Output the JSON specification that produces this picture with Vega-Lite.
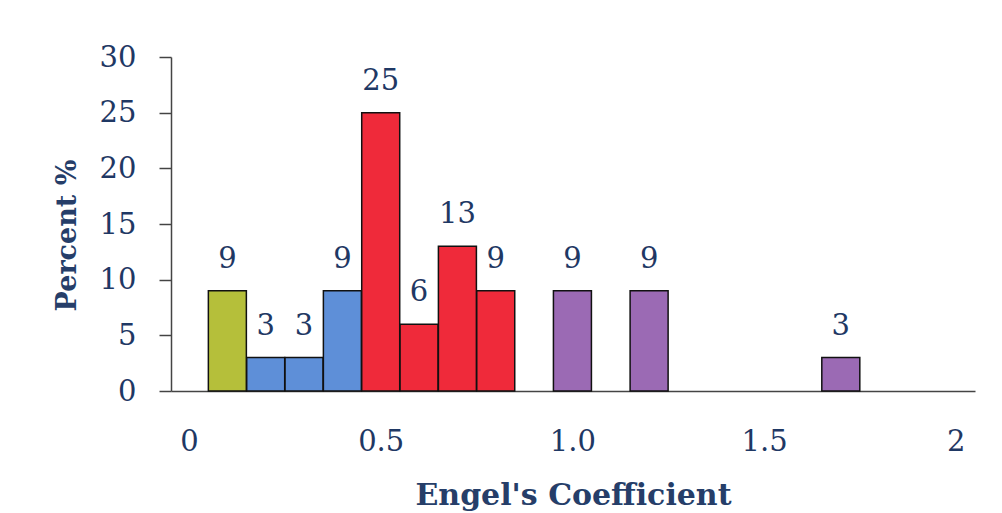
{
  "$schema": "https://vega.github.io/schema/vega-lite/v6.json",
  "autosize": "none",
  "width": 804,
  "height": 334,
  "padding": {"left": 171, "top": 57, "right": 27, "bottom": 122},
  "background": "white",
  "config": {"view": {"stroke": null}, "font": "DejaVu Serif"},
  "data": {"values": [
    {"coef": 0.1, "pct": 9, "group": "A"},
    {"coef": 0.2, "pct": 3, "group": "B"},
    {"coef": 0.3, "pct": 3, "group": "B"},
    {"coef": 0.4, "pct": 9, "group": "B"},
    {"coef": 0.5, "pct": 25, "group": "C"},
    {"coef": 0.6, "pct": 6, "group": "C"},
    {"coef": 0.7, "pct": 13, "group": "C"},
    {"coef": 0.8, "pct": 9, "group": "C"},
    {"coef": 1.0, "pct": 9, "group": "D"},
    {"coef": 1.2, "pct": 9, "group": "D"},
    {"coef": 1.7, "pct": 3, "group": "D"}
  ]},
  "encoding": {
    "x": {"field": "coef", "type": "quantitative",
      "scale": {"domain": [-0.047, 2.05], "zero": false, "nice": false, "padding": 0},
      "axis": {"values": [0, 0.5, 1, 1.5, 2], "title": "Engel's Coefficient",
        "labelExpr": "datum.value == 0 ? '0' : datum.value == 2 ? '2' : format(datum.value, '.1f')",
        "grid": false, "ticks": false, "domainColor": "#444444", "domainWidth": 1.5,
        "labelFont": "DejaVu Serif", "labelFontSize": 29, "labelColor": "#1F3864", "labelPadding": 36,
        "titleFont": "DejaVu Serif", "titleFontSize": 30, "titleFontWeight": "bold", "titleColor": "#263E69", "titlePadding": 24}},
    "y": {"field": "pct", "type": "quantitative",
      "scale": {"domain": [0, 30], "nice": false},
      "axis": {"values": [0, 5, 10, 15, 20, 25, 30], "title": "Percent %",
        "grid": false, "tickSize": 12, "tickColor": "#444444", "tickWidth": 1.5,
        "domainColor": "#444444", "domainWidth": 1.5,
        "labelFont": "DejaVu Serif", "labelFontSize": 29, "labelColor": "#1F3864", "labelPadding": 23,
        "titleFont": "DejaVu Serif", "titleFontSize": 27, "titleFontWeight": "bold", "titleColor": "#263E69", "titlePadding": 18, "titleY": 178}}
  },
  "layer": [
    {"mark": {"type": "bar", "size": 38, "stroke": "#111111", "strokeWidth": 1.5},
     "encoding": {"color": {"field": "group", "type": "nominal", "legend": null,
       "scale": {"domain": ["A", "B", "C", "D"], "range": ["#B5BF3A", "#5E8FD8", "#EF2A3A", "#9B6AB4"]}}}},
    {"mark": {"type": "text", "baseline": "bottom", "dy": -17, "fontSize": 29, "font": "DejaVu Serif", "color": "#1F3864"},
     "encoding": {"text": {"field": "pct", "type": "quantitative"}}}
  ]
}
